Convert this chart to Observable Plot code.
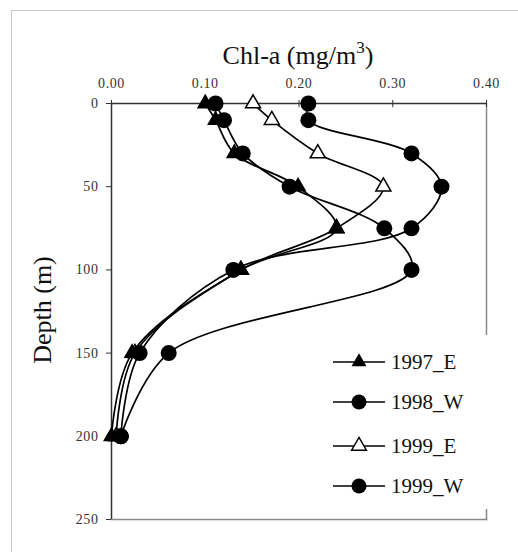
<!DOCTYPE html>
<html>
<head>
<meta charset="utf-8">
<script src="https://cdn.jsdelivr.net/npm/d3@7"></script>
<script src="https://cdn.jsdelivr.net/npm/@observablehq/plot@0.6"></script>
<style>
  body { margin: 0; background: #fff; }
  #wrap { position: relative; width: 518px; height: 552px; overflow: hidden; background: #fff; }
  #border { position: absolute; left: 11px; top: 10px; width: 700px; height: 700px;
            border-top: 1px solid #c8c8c8; border-left: 1px solid #c8c8c8; }
  #chart { position: absolute; left: 0; top: 0; }
  #chart svg, #chart svg text { font-family: "Liberation Serif", "Times New Roman", serif !important; }
  #chart svg text { letter-spacing: 0.6px; fill: #333; }
  #overlay { position: absolute; left: 0; top: 0; pointer-events: none; }
</style>
</head>
<body>
<div id="wrap">
  <div id="border"></div>
  <div id="chart"></div>
  <svg id="overlay" width="518" height="552"></svg>
</div>
<script>
// ---- data ----
const depths = [0, 10, 30, 50, 75, 100, 150, 200];
const chl1997E = [0.100, 0.111, 0.131, 0.199, 0.240, 0.138, 0.022, 0.000];
const chl1998W = [0.111, 0.120, 0.140, 0.190, 0.291, 0.320, 0.061, 0.010];
const chl1999E = [0.151, 0.171, 0.220, 0.290, 0.240, 0.138, 0.025, 0.005];
const chl1999W = [0.210, 0.210, 0.320, 0.352, 0.320, 0.130, 0.030, 0.010];

const seriesNames = ["1997_E", "1998_W", "1999_E", "1999_W"];
const seriesValues = [chl1997E, chl1998W, chl1999E, chl1999W];
const seriesSymbols = ["triangle", "circle", "triangle", "circle"];
const seriesFills = ["black", "black", "white", "black"];
// order in which markers are painted (open triangles underneath)
const markerOrder = ["1999_E", "1997_E", "1998_W", "1999_W"];

const xTicks = [0, 0.1, 0.2, 0.3, 0.4];
const yTicks = [0, 50, 100, 150, 200, 250];

const titleMain = "Chl-a (mg/m";
const titleSup = "3";
const titleEnd = ")";
const yTitle = "Depth (m)";

// ---- build rows ----
const rows = [];
seriesNames.forEach((name, i) => {
  depths.forEach((d, j) => rows.push({series: name, depth: d, chl: seriesValues[i][j]}));
});

const font = "'Liberation Serif', 'Times New Roman', serif";

const lineMarks = seriesNames.map(name =>
  Plot.line(rows.filter(r => r.series === name),
    {x: "chl", y: "depth", curve: "catmull-rom", stroke: "black", strokeWidth: 1.7}));

const dotMarks = markerOrder.map(name => {
  const i = seriesNames.indexOf(name);
  const sym = seriesSymbols[i];
  const open = seriesFills[i] === "white";
  return Plot.dot(rows.filter(r => r.series === name), {x: "chl", y: "depth", symbol: sym,
    r: sym === "circle" ? 8 : (open ? 5.6 : 6.3),
    fill: seriesFills[i], stroke: "black", strokeWidth: open ? 1.5 : 0});
});

const chart = Plot.plot({
  width: 518,
  height: 552,
  marginLeft: 111,
  marginRight: 32,
  marginTop: 103,
  marginBottom: 33,
  style: "background: transparent; font-family: 'Liberation Serif', serif; font-size: 14px; color: #222;",
  x: {domain: [0, 0.4], label: null},
  y: {domain: [0, 250], reverse: true, label: null},
  marks: [
    Plot.frame({anchor: "right", stroke: "#888", strokeWidth: 1.5}),
    Plot.frame({anchor: "bottom", stroke: "#888", strokeWidth: 1.5}),
    Plot.axisX({anchor: "top", ticks: xTicks, tickFormat: d3.format(".2f"),
                tickSize: 4, tickPadding: 12, fontSize: 14, stroke: "#333"}),
    Plot.ruleX(xTicks.slice(1), {x: d => d, y1: 0, y2: 2.5, stroke: "#333"}),
    Plot.axisY({anchor: "left", ticks: yTicks, tickFormat: d3.format("d"),
                tickSize: 5, tickPadding: 8, fontSize: 14, stroke: "#333"}),
    Plot.ruleY([0], {stroke: "#333", strokeWidth: 1.5}),
    Plot.ruleX([0], {stroke: "#333", strokeWidth: 1.5}),
    ...lineMarks,
    ...dotMarks
  ]
});
document.getElementById("chart").appendChild(chart);

// ---- overlay: titles and legend ----
const ov = d3.select("#overlay");
const t = ov.append("text").attr("x", 298).attr("y", 64).attr("text-anchor", "middle")
  .attr("font-family", font).attr("font-size", 26).attr("fill", "#111");
t.append("tspan").text(titleMain);
t.append("tspan").attr("dy", -11).attr("font-size", 17).text(titleSup);
t.append("tspan").attr("dy", 11).text(titleEnd);

ov.append("text").attr("transform", "translate(51,310) rotate(-90)")
  .attr("text-anchor", "middle").attr("font-family", font).attr("font-size", 26)
  .attr("fill", "#111").text(yTitle);

const lg = ov.append("g").attr("transform", "translate(318,335)");
lg.append("rect").attr("width", 172).attr("height", 174).attr("fill", "white");
const rowY = [27, 67, 111, 151];
seriesNames.forEach((name, i) => {
  const g = lg.append("g").attr("transform", `translate(0,${rowY[i]})`);
  g.append("line").attr("x1", 15).attr("x2", 67).attr("stroke", "black").attr("stroke-width", 1.7);
  const sym = seriesSymbols[i] === "circle" ? d3.symbolCircle : d3.symbolTriangle;
  const size = seriesSymbols[i] === "circle" ? Math.PI * 7.5 * 7.5 : 97;
  g.append("path").attr("d", d3.symbol(sym, size)()).attr("transform", "translate(41,0)")
    .attr("fill", seriesFills[i]).attr("stroke", "black")
    .attr("stroke-width", seriesFills[i] === "white" ? 1.4 : 0);
  g.append("text").attr("x", 73).attr("y", 0).attr("dy", "0.35em")
    .attr("font-family", font).attr("font-size", 21).attr("fill", "#111").text(name);
});
</script>
</body>
</html>
